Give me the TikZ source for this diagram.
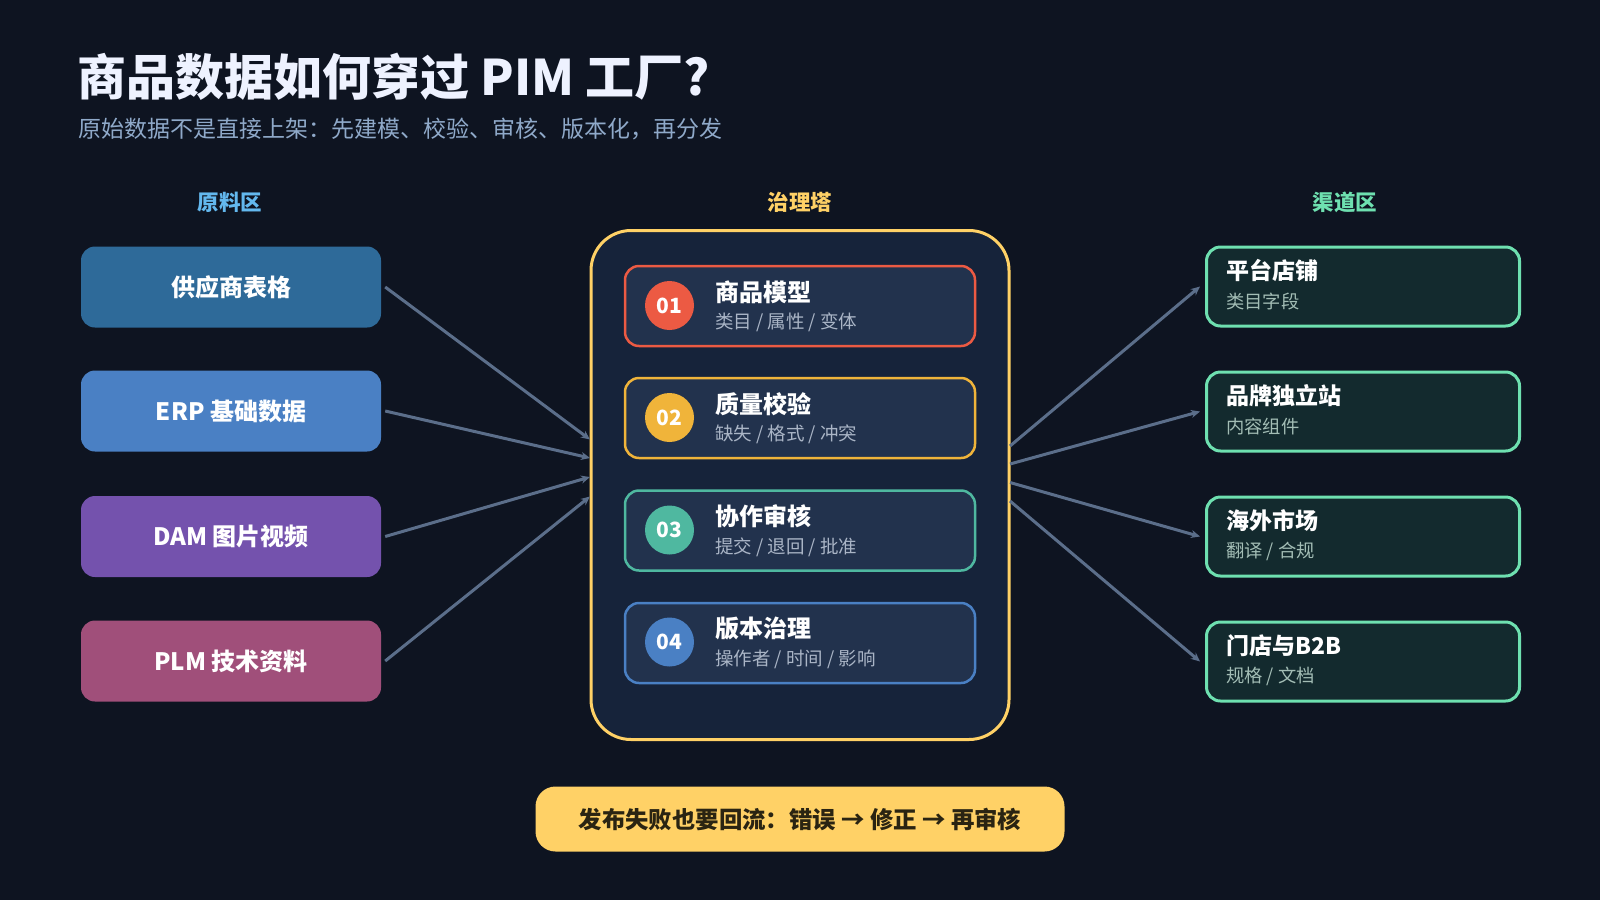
\documentclass[tikz,border=0pt]{standalone}
\usepackage{fontspec}
\setmainfont{Noto Sans CJK SC}
\usetikzlibrary{arrows.meta,positioning}
\definecolor{bg}{HTML}{0E1421}
\definecolor{titlec}{HTML}{EEF2FF}
\definecolor{subc}{HTML}{8FA9C9}
\definecolor{srcc}{HTML}{63B8EE}
\definecolor{gold}{HTML}{FFD166}
\definecolor{chc}{HTML}{6EE0B0}
\definecolor{towerfill}{HTML}{16233A}
\definecolor{cardfill}{HTML}{22324D}
\definecolor{arrowc}{HTML}{5B6E8A}
\definecolor{chfill}{HTML}{132A2E}
\definecolor{chsub}{HTML}{A3BDB5}
\definecolor{cardsub}{HTML}{AAB5C6}
\definecolor{sA}{HTML}{2E6A99}
\definecolor{sB}{HTML}{4A80C4}
\definecolor{sC}{HTML}{7452AD}
\definecolor{sD}{HTML}{A04F7A}
\definecolor{kA}{HTML}{EC5A43}
\definecolor{kB}{HTML}{F0B43A}
\definecolor{kC}{HTML}{4FB8A0}
\definecolor{kD}{HTML}{4A80C4}
\definecolor{bannertext}{HTML}{2A2412}
\newcommand{\fs}[1]{\fontsize{#1}{#1}\selectfont}
\tikzset{
  srcbox/.style={rounded corners=14pt, minimum width=300pt, minimum height=81pt, inner sep=0pt, text=white, font=\fs{24}\bfseries},
  tower/.style={draw=gold, line width=3pt, fill=towerfill, rounded corners=40pt, minimum width=418pt, minimum height=509pt, inner sep=0pt},
  card/.style={fill=cardfill, line width=2.5pt, rounded corners=14pt, minimum width=350pt, minimum height=80pt, inner sep=0pt},
  numdot/.style={circle, minimum size=49pt, inner sep=0pt, text=white, font=\fs{21}\bfseries},
  cardtitle/.style={anchor=west, inner sep=0pt, text=white, font=\fs{24}\bfseries},
  cardsubt/.style={anchor=west, inner sep=0pt, text=cardsub, font=\fs{18.5}},
  chbox/.style={draw=chc, fill=chfill, line width=3pt, rounded corners=14pt, minimum width=313pt, minimum height=79pt, inner sep=0pt},
  chtitle/.style={anchor=west, inner sep=0pt, text=white, font=\fs{23}\bfseries},
  chsubt/.style={anchor=west, inner sep=0pt, text=chsub, font=\fs{18.3}},
  zonelabel/.style={inner sep=0pt, font=\fs{21.5}\bfseries},
  flow/.style={draw=arrowc, line width=3pt, -{Stealth[length=9pt,width=8pt]}},
}
\begin{document}
\begin{tikzpicture}[x=1pt,y=-1pt]
\useasboundingbox (0,0) rectangle (1600,900);
\fill[bg] (0,0) rectangle (1600,900);

% titles
\node[anchor=west, inner sep=0pt, text=titlec, font=\fs{49}\bfseries] (title) at (77,76.5) {商品数据如何穿过 PIM 工厂?};
\node[anchor=west, inner sep=0pt, text=subc, font=\fs{23}] (subtitle) at (78,129) {原始数据不是直接上架：先建模、校验、审核、版本化，再分发};

% zone labels
\node[zonelabel, text=srcc] (z1) at (230,202) {原料区};
\node[zonelabel, text=gold] (z2) at (800,202) {治理塔};
\node[zonelabel, text=chc] (z3) at (1345,202) {渠道区};

% source boxes
\node[srcbox, fill=sA] (s1) at (231,287) {供应商表格};
\node[srcbox, fill=sB] (s2) at (231,411) {ERP 基础数据};
\node[srcbox, fill=sC] (s3) at (231,536.5) {DAM 图片视频};
\node[srcbox, fill=sD] (s4) at (231,661) {PLM 技术资料};

% tower
\node[tower] (tw) at (800,485) {};

% cards
\node[card, draw=kA] (c1) at (800,306) {};
\node[card, draw=kB] (c2) at (800,418) {};
\node[card, draw=kC] (c3) at (800,530.5) {};
\node[card, draw=kD] (c4) at (800,643) {};

\node[numdot, fill=kA] (n1) at (669.5,305.5) {01};
\node[numdot, fill=kB] (n2) at (669.5,417.5) {02};
\node[numdot, fill=kC] (n3) at (669.5,530) {03};
\node[numdot, fill=kD] (n4) at (669.5,642) {04};

\node[cardtitle] (t1) at (715,292) {商品模型};
\node[cardsubt] (u1) at (715,322.5) {类目 / 属性 / 变体};
\node[cardtitle] (t2) at (715,404) {质量校验};
\node[cardsubt] (u2) at (715,434.5) {缺失 / 格式 / 冲突};
\node[cardtitle] (t3) at (715,516.5) {协作审核};
\node[cardsubt] (u3) at (715,547) {提交 / 退回 / 批准};
\node[cardtitle] (t4) at (715,628.5) {版本治理};
\node[cardsubt] (u4) at (715,659) {操作者 / 时间 / 影响};

% channel boxes
\node[chbox] (d1) at (1363,286.5) {};
\node[chbox] (d2) at (1363,411.5) {};
\node[chbox] (d3) at (1363,536.5) {};
\node[chbox] (d4) at (1363,661.5) {};

\node[chtitle] (h1) at (1226,270.5) {平台店铺};
\node[chsubt] (v1) at (1226,301.5) {类目字段};
\node[chtitle] (h2) at (1226,395.5) {品牌独立站};
\node[chsubt] (v2) at (1226,426.5) {内容组件};
\node[chtitle] (h3) at (1226,520.5) {海外市场};
\node[chsubt] (v3) at (1226,551.5) {翻译 / 合规};
\node[chtitle] (h4) at (1226,645.5) {门店与B2B};
\node[chsubt] (v4) at (1226,676.5) {规格 / 文档};

% connector end points on tower
\coordinate (i1) at (590,439.5);
\coordinate (i2) at (590,458);
\coordinate (i3) at (590,477);
\coordinate (i4) at (590,496.5);
\coordinate (o1) at (1010,446);
\coordinate (o2) at (1010,464);
\coordinate (o3) at (1010,482.5);
\coordinate (o4) at (1010,501);

\draw[flow] ([xshift=4pt]s1.east) -- (i1);
\draw[flow] ([xshift=4pt]s2.east) -- (i2);
\draw[flow] ([xshift=4pt]s3.east) -- (i3);
\draw[flow] ([xshift=4pt]s4.east) -- (i4);

\draw[flow] (o1) -- ([xshift=-5pt]d1.west);
\draw[flow] (o2) -- ([xshift=-5pt]d2.west);
\draw[flow] (o3) -- ([xshift=-5pt]d3.west);
\draw[flow] (o4) -- ([xshift=-5pt]d4.west);

% banner
\node[fill=gold, rounded corners=20pt, minimum width=529pt, minimum height=65pt, inner sep=0pt, text=bannertext, font=\fs{23.4}\bfseries] (banner) at (800,819) {发布失败也要回流：错误 → 修正 → 再审核};
\end{tikzpicture}
\end{document}
